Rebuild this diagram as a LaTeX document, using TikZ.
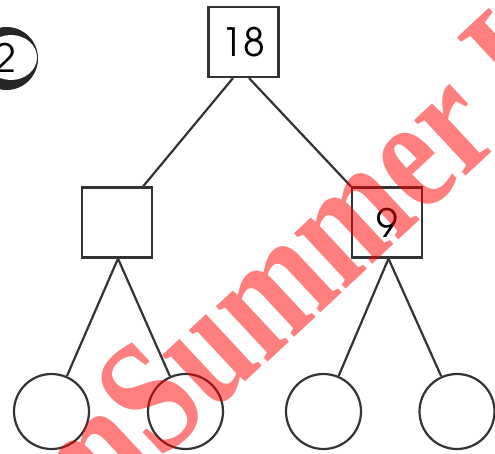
\documentclass[tikz,border=0pt]{standalone}
\usepackage{fontspec}
\usepackage{graphicx}
\setmainfont{TeX Gyre Adventor}
\newfontfamily\wmfont{Liberation Serif}
\begin{document}
\begin{tikzpicture}[x=1pt,y=-1pt,
  ink/.style={draw=black!80,line width=2.2pt},
  sq/.style={ink,fill=white,rectangle,minimum size=70pt,inner sep=0pt,
    font=\fontsize{39}{40}\selectfont},
  ring/.style={ink,fill=white,circle,minimum size=75pt,inner sep=0pt},
  wm/.style={text=red,text opacity=0.5,inner sep=0pt,
    font=\wmfont\bfseries\fontsize{165}{165}\selectfont}]
\useasboundingbox (0,0) rectangle (495,453);
\begin{scope}
\clip (0,0) rectangle (495,453);
% badge
\fill[black!85] (6.5,58.5) circle (31.5);
\fill[white] (11,57.5) ellipse (26 and 22.5);
\node[font=\fontsize{39}{40}\selectfont,inner sep=0pt] (badge) at (5,57.5) {2};
% nodes
\node[sq] (t) at (243.5,42) {18};
\node[sq] (l) at (117,222.5) {};
\node[sq] (r) at (387,222.5) {9};
\node[ring] (c1) at (51.5,411.5) {};
\node[ring] (c2) at (185.5,411.5) {};
\node[ring] (c3) at (323.5,411.5) {};
\node[ring] (c4) at (457,411.5) {};
% connectors
\draw[ink] ([xshift=-10.5pt]t.south) -- ([xshift=-10pt]l.north east);
\draw[ink] ([xshift=5.5pt]t.south) -- (r.north west);
\draw[ink] ([xshift=1pt]l.south) -- (c1);
\draw[ink] ([xshift=1pt]l.south) -- (c2);
\draw[ink] ([xshift=1.5pt]r.south) -- (c3);
\draw[ink] ([xshift=1.5pt]r.south) -- (c4);
% watermark
\node[wm,anchor=mid west,rotate=43] (mark) at (80,533)
  {\scalebox{0.78}[1]{mSummer L}};
\end{scope}
\end{tikzpicture}
\end{document}
